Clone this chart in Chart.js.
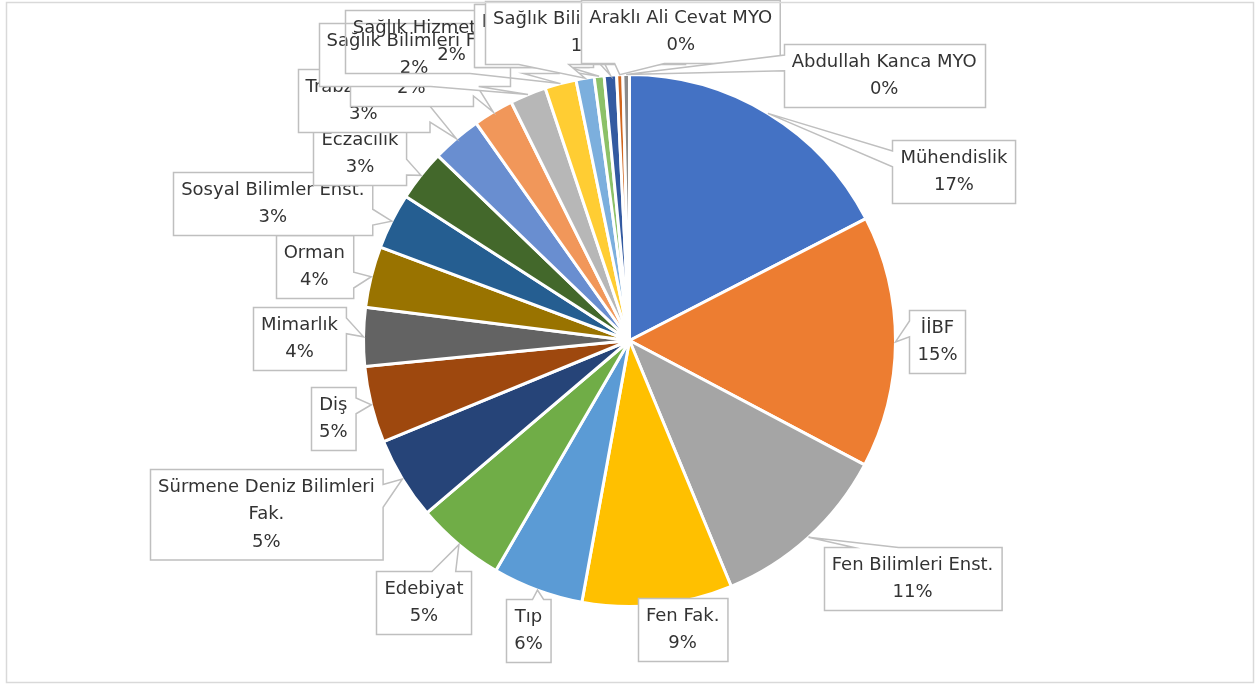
<!DOCTYPE html>
<html lang="tr">
<head>
<meta charset="UTF-8">
<title>Birimlere Göre Dağılım</title>
<script src="https://cdn.jsdelivr.net/npm/chart.js"></script>
<style>
  html, body { margin: 0; padding: 0; background: #fff; }
  #wrap { position: relative; width: 1258px; height: 684px; }
</style>
</head>
<body>
<div id="wrap"><canvas id="pastaGrafik"></canvas></div>
<script>
  // birimler (saat yönünde, tepeden başlayarak)
  const birimler = [
    "Mühendislik", "İİBF", "Fen Bilimleri Enst.", "Fen Fak.", "Tıp", "Edebiyat",
    "Sürmene Deniz Bilimleri Fak.", "Diş", "Mimarlık", "Orman", "Sosyal Bilimler Enst.",
    "Eczacılık", "Trabzon MYO", "İletişim Fak.", "Sağlık Bilimleri Fak.",
    "Sağlık Hizmetleri MYO", "Sağlık Bilimleri Enst.", "Tonya MYO", "Maçka MYO",
    "Araklı Ali Cevat MYO", "Abdullah Kanca MYO"
  ];
  // paylar (%)
  const paylar = [
    17.4, 15.3, 11.0, 9.1, 5.5, 5.4,
    5.0, 4.65, 3.55, 3.7, 3.4,
    3.1, 3.0, 2.45, 2.2,
    1.9, 1.1, 0.6, 0.75,
    0.37, 0.4
  ];
  const renkler = [
    "#4472C4", "#ED7D31", "#A5A5A5", "#FFC000", "#5B9BD5", "#70AD47",
    "#264478", "#9E480E", "#636363", "#997300", "#255E91",
    "#43682B", "#698ED0", "#F1975A", "#B7B7B7",
    "#FFCD33", "#7CAFDD", "#8CC168", "#335AA1",
    "#D0661E", "#8A8A8A"
  ];
  // etiket kutusunun dilim kenarına göre merkez kayması (px)
  const etiketKayma = [
    [186, 58], [42, 0], [104, 41], [25, 24], [-9, 40], [-35, 58],
    [-136, 35], [-38, 14], [-64, 2], [-57, -10], [-119, -18],
    [-61, -22], [-93, -38], [-82, -38], [-114, -40],
    [-109, -42], [0, -46], [-67, -41], [-77, -40],
    [61, -43], [258, 1]
  ];
  // çizim sırası (üst üste binen etiketler için)
  const cizimSirasi = [0, 1, 2, 3, 4, 5, 6, 7, 8, 9, 10, 11, 12, 13, 14, 15, 17, 18, 16, 19, 20];
  const dolgusuzEtiket = [15];

  const YAZI = '18px "DejaVu Sans"';
  const SATIR = 27.5;

  function satirlaraBol(ctx, metin, enFazla) {
    const kelimeler = metin.split(" ");
    const satirlar = [];
    let simdiki = "";
    kelimeler.forEach(k => {
      const dene = simdiki ? simdiki + " " + k : k;
      if (simdiki && ctx.measureText(dene).width > enFazla) {
        satirlar.push(simdiki);
        simdiki = k;
      } else {
        simdiki = dene;
      }
    });
    satirlar.push(simdiki);
    return satirlar;
  }

  // Excel tarzı konuşma balonu (wedgeRectCallout)
  function balonYolu(ctx, bx, by, w, h, tx, ty) {
    const cx = bx + w / 2, cy = by + h / 2;
    const dx = tx - cx, dy = ty - cy;
    let taraf = null;
    if (Math.abs(dx) > w / 2 || Math.abs(dy) > h / 2) {
      if (Math.abs(dx) / w > Math.abs(dy) / h) taraf = dx > 0 ? "r" : "l";
      else taraf = dy > 0 ? "b" : "t";
    }
    const x1 = bx + w * (dx > 0 ? 7 : 2) / 12, x2 = bx + w * (dx > 0 ? 10 : 5) / 12;
    const y1 = by + h * (dy > 0 ? 7 : 2) / 12, y2 = by + h * (dy > 0 ? 10 : 5) / 12;
    ctx.beginPath();
    ctx.moveTo(bx, by);
    if (taraf === "t") { ctx.lineTo(x1, by); ctx.lineTo(tx, ty); ctx.lineTo(x2, by); }
    ctx.lineTo(bx + w, by);
    if (taraf === "r") { ctx.lineTo(bx + w, y1); ctx.lineTo(tx, ty); ctx.lineTo(bx + w, y2); }
    ctx.lineTo(bx + w, by + h);
    if (taraf === "b") { ctx.lineTo(x2, by + h); ctx.lineTo(tx, ty); ctx.lineTo(x1, by + h); }
    ctx.lineTo(bx, by + h);
    if (taraf === "l") { ctx.lineTo(bx, y2); ctx.lineTo(tx, ty); ctx.lineTo(bx, y1); }
    ctx.closePath();
  }

  const etiketEklentisi = {
    id: "etiketler",
    afterDraw(chart) {
      const ctx = chart.ctx;
      const meta = chart.getDatasetMeta(0);
      const toplam = paylar.reduce((a, b) => a + b, 0);
      ctx.save();
      ctx.font = YAZI;
      ctx.textAlign = "center";
      ctx.textBaseline = "middle";
      cizimSirasi.forEach(i => {
        const arc = meta.data[i];
        const orta = (arc.startAngle + arc.endAngle) / 2;
        const tx = arc.x + Math.cos(orta) * arc.outerRadius;
        const ty = arc.y + Math.sin(orta) * arc.outerRadius;
        const satirlar = satirlaraBol(ctx, birimler[i], 225);
        satirlar.push(Math.round(paylar[i] / toplam * 100) + "%");
        const genislik = Math.max(...satirlar.map(s => ctx.measureText(s).width)) + 16;
        const yukseklik = satirlar.length * SATIR + 8;
        const mx = tx + etiketKayma[i][0], my = ty + etiketKayma[i][1];
        const bx = Math.round(mx - genislik / 2) + 0.5, by = Math.round(my - yukseklik / 2) + 0.5;
        balonYolu(ctx, bx, by, genislik, yukseklik, tx, ty);
        if (!dolgusuzEtiket.includes(i)) {
          ctx.fillStyle = "#ffffff";
          ctx.fill();
        }
        ctx.strokeStyle = "#BFBFBF";
        ctx.lineWidth = 1.5;
        ctx.stroke();
        ctx.fillStyle = "#333333";
        satirlar.forEach((s, k) => {
          ctx.fillText(s, mx, by + 4 + SATIR * (k + 0.5));
        });
      });
      // grafik alanı çerçevesi
      ctx.strokeStyle = "#D9D9D9";
      ctx.lineWidth = 1.5;
      ctx.strokeRect(6.5, 2.5, 1247, 680);
      ctx.restore();
    }
  };

  new Chart(document.getElementById("pastaGrafik"), {
    type: "pie",
    data: {
      labels: birimler,
      datasets: [{
        data: paylar,
        backgroundColor: renkler,
        borderColor: "#ffffff",
        borderWidth: 3,
        hoverOffset: 0,
        offset: 0
      }]
    },
    options: {
      responsive: true,
      maintainAspectRatio: false,
      animation: false,
      layout: { padding: { left: 362, right: 361, top: 73, bottom: 76 } },
      plugins: {
        legend: { display: false },
        tooltip: { enabled: false }
      }
    },
    plugins: [etiketEklentisi]
  });
</script>
</body>
</html>
